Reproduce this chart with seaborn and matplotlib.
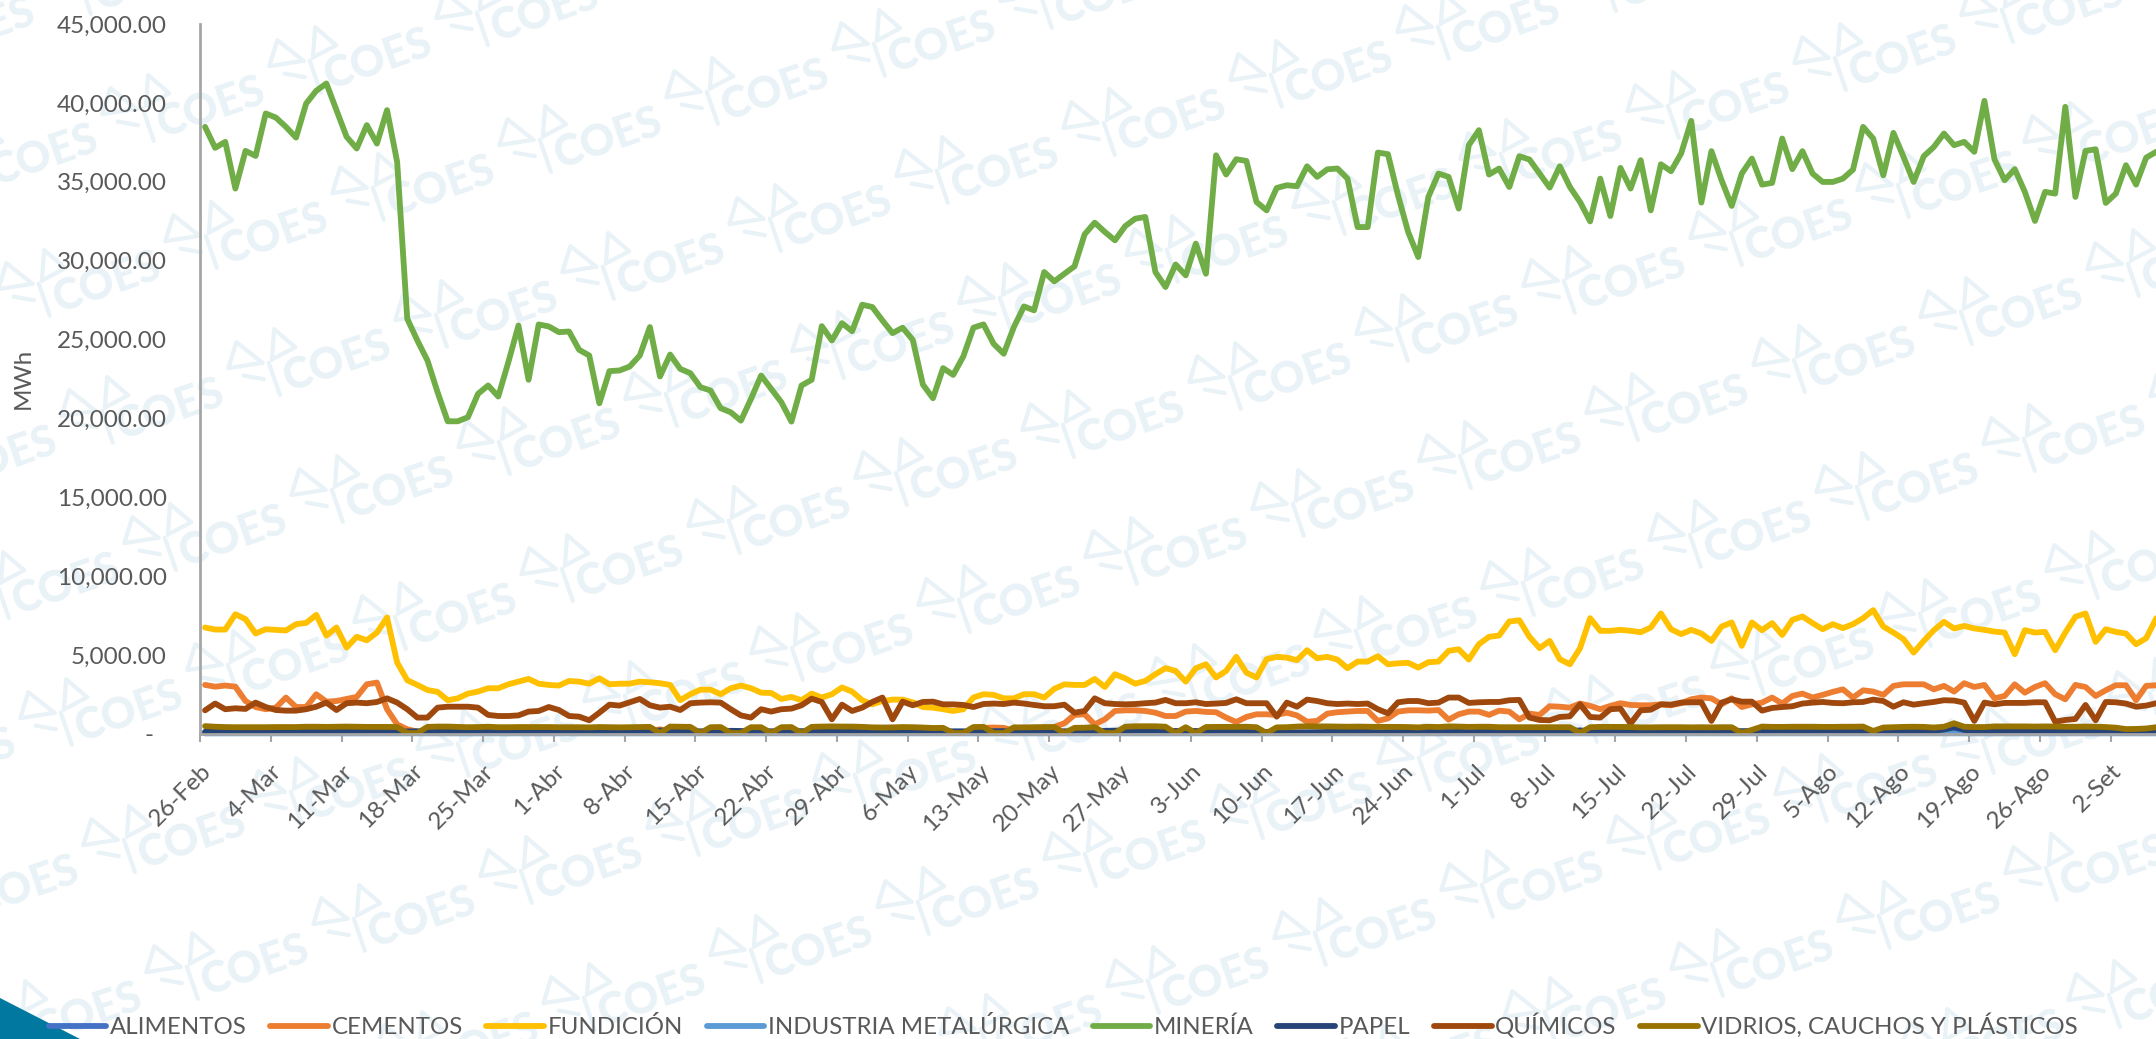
import numpy as np
import pandas as pd
import seaborn as sns
import matplotlib.pyplot as plt
from matplotlib.lines import Line2D
from matplotlib.patches import Polygon
from matplotlib.ticker import FuncFormatter

ANCHO, ALTO = 2156, 1039

SECTORES = ["ALIMENTOS", "CEMENTOS", "FUNDICIÓN", "INDUSTRIA METALÚRGICA",
            "MINERÍA", "PAPEL", "QUÍMICOS", "VIDRIOS, CAUCHOS Y PLÁSTICOS"]
COLORES = ["#4472C4", "#ED7D31", "#FFC000", "#5B9BD5",
           "#70AD47", "#264478", "#9E480E", "#997300"]

SEMANAS = ["26-Feb", "4-Mar", "11-Mar", "18-Mar", "25-Mar", "1-Abr", "8-Abr", "15-Abr",
           "22-Abr", "29-Abr", "6-May", "13-May", "20-May", "27-May", "3-Jun", "10-Jun",
           "17-Jun", "24-Jun", "1-Jul", "8-Jul", "15-Jul", "22-Jul", "29-Jul", "5-Ago",
           "12-Ago", "19-Ago", "26-Ago", "2-Set"]

mineria = [
    38480, 37150, 37530, 34570, 36960, 36640, 39330, 39070, 38480, 37800,
    39960, 40770, 41230, 39540, 37850, 37110, 38590, 37420, 39540, 36260,
    26320, 24940, 23670, 21660, 19820, 19820, 20080, 21560, 22090, 21390,
    23570, 25890, 22450, 25960, 25830, 25470, 25510, 24350, 23990, 20960,
    23000, 23040, 23290, 23990, 25790, 22660, 24050, 23140, 22870, 21980,
    21770, 20650, 20390, 19860, 21240, 22720, 21870, 21030, 19800, 22090,
    22450, 25850, 24940, 26040, 25530, 27210, 27060, 26210, 25410, 25750,
    24980, 22150, 21280, 23190, 22760, 23930, 25750, 25960, 24730, 24100,
    25790, 27100, 26850, 29280, 28690, 29170, 29640, 31670, 32410, 31820,
    31290, 32180, 32660, 32770, 29280, 28330, 29760, 29070, 31080, 29170,
    36680, 35460, 36430, 36320, 33720, 33190, 34610, 34780, 34720, 35980,
    35310, 35790, 35840, 35200, 32130, 32130, 36850, 36750, 34140, 31820,
    30230, 34040, 35520, 35310, 33300, 37320, 38270, 35460, 35840, 34670,
    36620, 36410, 35520, 34630, 35980, 34670, 33720, 32490, 35200, 32830,
    35880, 34570, 36370, 33190, 36110, 35670, 36790, 38860, 33680, 36940,
    35100, 33470, 35520, 36470, 34820, 34930, 37740, 35800, 36940, 35520,
    34990, 34990, 35200, 35770, 38480, 37740, 35410, 38100, 36580, 34990,
    36620, 37210, 38060, 37320, 37530, 36900, 40130, 36410, 35100, 35800,
    34360, 32520, 34360, 34250, 39750, 34040, 36960, 37060, 33660, 34250,
    36050, 34820, 36530, 36900,
]
fundicion = [
    6750, 6620, 6620, 7590, 7280, 6370, 6640, 6600, 6560, 6960,
    7040, 7550, 6240, 6750, 5480, 6160, 5940, 6430, 7380, 4530,
    3410, 3110, 2790, 2670, 2140, 2260, 2560, 2690, 2900, 2900,
    3150, 3320, 3490, 3190, 3110, 3070, 3360, 3320, 3190, 3530,
    3150, 3190, 3190, 3320, 3280, 3220, 3110, 2140, 2520, 2810,
    2810, 2520, 2900, 3070, 2900, 2620, 2600, 2220, 2350, 2140,
    2560, 2310, 2520, 2950, 2690, 2140, 1880, 2090, 2180, 2180,
    2010, 1710, 1670, 1570, 1460, 1570, 2310, 2520, 2480, 2260,
    2260, 2520, 2520, 2310, 2860, 3150, 3110, 3110, 3490, 2980,
    3790, 3530, 3190, 3360, 3790, 4170, 4000, 3320, 4170, 4420,
    3580, 4000, 4890, 3890, 3580, 4740, 4890, 4840, 4680, 5310,
    4800, 4890, 4720, 4170, 4590, 4590, 4930, 4420, 4480, 4510,
    4210, 4550, 4590, 5270, 5370, 4720, 5690, 6160, 6240, 7130,
    7210, 6160, 5440, 5900, 4740, 4420, 5440, 7340, 6540, 6540,
    6600, 6540, 6450, 6750, 7640, 6640, 6330, 6600, 6370, 5900,
    6810, 7070, 5590, 7070, 6580, 7030, 6280, 7230, 7450, 7030,
    6640, 6960, 6710, 6960, 7340, 7850, 6810, 6430, 6010, 5160,
    5900, 6580, 7110, 6690, 6850, 6690, 6600, 6490, 6430, 5060,
    6580, 6430, 6470, 5310, 6430, 7430, 7640, 5840, 6640, 6470,
    6370, 5690, 6070, 7340,
]
cementos = [
    3110, 3000, 3070, 3000, 2090, 1710, 1570, 1670, 2310, 1710,
    1710, 2520, 2050, 2090, 2220, 2350, 3150, 3260, 1570, 610,
    300, 150, 120, 110, 100, 110, 120, 110, 100, 120,
    110, 100, 130, 120, 110, 100, 120, 110, 130, 120,
    110, 100, 120, 130, 150, 300, 130, 120, 110, 100,
    120, 110, 100, 120, 130, 110, 100, 120, 110, 100,
    130, 120, 110, 120, 110, 100, 130, 120, 110, 100,
    120, 130, 110, 100, 120, 110, 130, 390, 410, 390,
    200, 130, 120, 110, 450, 680, 1210, 1250, 610, 930,
    1460, 1500, 1500, 1460, 1350, 1140, 1140, 1420, 1460, 1400,
    1380, 1040, 760, 1080, 1250, 1250, 1210, 1350, 1180, 780,
    830, 1290, 1380, 1420, 1460, 1460, 830, 990, 1420, 1500,
    1500, 1480, 1520, 910, 1250, 1420, 1420, 1210, 1480, 1420,
    930, 1290, 1210, 1760, 1730, 1670, 1930, 1780, 1570, 1780,
    1950, 1840, 1820, 1820, 1880, 1820, 1950, 2200, 2310, 2260,
    1880, 2260, 1710, 1880, 1990, 2310, 1930, 2410, 2560, 2310,
    2480, 2670, 2830, 2310, 2770, 2690, 2480, 3050, 3150, 3150,
    3150, 2830, 3050, 2690, 3220, 2980, 3110, 2260, 2410, 3150,
    2620, 2980, 3220, 2520, 2200, 3110, 2980, 2410, 2770, 3090,
    3090, 2140, 3050, 3090,
]
quimicos = [
    1500, 1930, 1570, 1630, 1590, 1990, 1710, 1520, 1480, 1480,
    1570, 1730, 1990, 1520, 1950, 1990, 1950, 2030, 2260, 1990,
    1570, 1040, 1040, 1670, 1730, 1730, 1730, 1670, 1210, 1140,
    1140, 1180, 1420, 1460, 1710, 1520, 1140, 1100, 870, 1350,
    1860, 1800, 2010, 2220, 1820, 1670, 1730, 1520, 1950, 1990,
    2010, 1990, 1570, 1180, 1040, 1570, 1420, 1570, 1610, 1820,
    2240, 2030, 930, 1860, 1460, 1670, 2030, 2310, 930, 2050,
    1820, 2030, 2050, 1880, 1880, 1840, 1710, 1900, 1930, 1900,
    1990, 1930, 1840, 1760, 1760, 1860, 1350, 1460, 2260, 1950,
    1900, 1880, 1900, 1950, 1990, 2160, 1950, 1950, 2010, 1900,
    1930, 1970, 2200, 1950, 1950, 1950, 1100, 1990, 1730, 2180,
    2090, 1950, 1900, 1930, 1900, 1930, 1570, 1310, 2010, 2090,
    2090, 1950, 1990, 2310, 2310, 1970, 2010, 2030, 2030, 2140,
    2160, 1040, 890, 870, 1080, 1120, 1880, 1080, 1040, 1570,
    1610, 660, 1500, 1540, 1880, 1860, 1990, 2010, 2010, 830,
    1990, 2200, 2050, 2050, 1480, 1650, 1710, 1760, 1930, 1990,
    2030, 1970, 1950, 2010, 2030, 2180, 2090, 1730, 2010, 1860,
    1950, 2030, 2140, 2120, 1990, 830, 1990, 1880, 1970, 1970,
    1970, 2010, 2010, 780, 890, 950, 1840, 870, 2030, 2010,
    1930, 1730, 1800, 1950,
]
vidrios = [
    500, 460, 440, 430, 430, 430, 430, 440, 440, 440,
    460, 460, 450, 460, 470, 460, 450, 450, 450, 440,
    60, 60, 450, 470, 470, 450, 430, 440, 460, 430,
    430, 440, 440, 440, 440, 430, 430, 430, 420, 440,
    430, 420, 430, 440, 450, 60, 470, 460, 450, 60,
    430, 440, 60, 60, 430, 430, 60, 430, 440, 60,
    450, 470, 480, 470, 470, 450, 420, 410, 420, 440,
    430, 410, 380, 390, 60, 60, 440, 450, 60, 60,
    420, 420, 430, 440, 440, 60, 390, 400, 430, 60,
    60, 460, 490, 490, 490, 460, 60, 430, 60, 440,
    450, 450, 450, 460, 430, 60, 420, 430, 470, 490,
    480, 480, 470, 460, 470, 460, 450, 450, 450, 440,
    420, 460, 440, 480, 470, 450, 460, 460, 430, 430,
    430, 430, 430, 430, 430, 430, 70, 430, 450, 450,
    450, 440, 420, 420, 430, 430, 430, 420, 430, 420,
    430, 430, 60, 260, 470, 450, 450, 460, 460, 460,
    450, 450, 460, 460, 470, 190, 410, 430, 450, 460,
    450, 410, 460, 680, 460, 440, 440, 480, 480, 480,
    480, 470, 480, 470, 460, 460, 470, 460, 440, 400,
    310, 320, 350, 430,
]
papel = [
    140, 130, 130, 120, 120, 120, 120, 120, 130, 140,
    160, 150, 150, 150, 160, 150, 140, 140, 140, 150,
    160, 170, 170, 170, 150, 160, 150, 150, 140, 150,
    150, 150, 140, 150, 150, 150, 150, 140, 150, 150,
    140, 140, 130, 140, 180, 220, 200, 190, 170, 170,
    170, 180, 200, 190, 190, 190, 170, 200, 180, 180,
    190, 190, 190, 180, 130, 120, 130, 130, 140, 160,
    160, 150, 160, 170, 170, 170, 150, 160, 180, 180,
    180, 180, 170, 160, 160, 170, 170, 160, 160, 200,
    210, 220, 240, 240, 240, 200, 190, 200, 190, 170,
    170, 170, 170, 170, 150, 130, 90, 90, 100, 100,
    110, 130, 140, 140, 130, 140, 100, 120, 130, 130,
    120, 130, 130, 120, 130, 120, 130, 130, 130, 140,
    140, 140, 140, 150, 130, 170, 230, 160, 140, 140,
    140, 140, 130, 130, 140, 150, 140, 140, 130, 130,
    140, 210, 180, 190, 180, 170, 170, 170, 170, 180,
    170, 170, 170, 170, 170, 190, 170, 180, 190, 180,
    170, 190, 290, 420, 260, 200, 190, 190, 190, 210,
    200, 200, 200, 190, 190, 190, 190, 170, 150, 130,
    120, 130, 150, 170,
]
metalurgica = [
    40, 42, 41, 40, 43, 42, 41, 40, 42, 44,
    43, 42, 41, 43, 42, 40, 41, 43, 42, 41,
    40, 42, 44, 43, 41, 42, 40, 41, 43, 42,
    44, 43, 41, 40, 42, 43, 41, 42, 44, 43,
    40, 41, 42, 43, 41, 40, 42, 44, 43, 41,
    42, 40, 41, 43, 42, 44, 43, 41, 40, 42,
    43, 41, 42, 44, 43, 40, 41, 42, 43, 41,
    40, 42, 44, 43, 41, 42, 40, 41, 43, 42,
    44, 43, 41, 40, 42, 43, 41, 42, 44, 43,
    40, 41, 42, 43, 41, 40, 42, 44, 43, 41,
    42, 40, 41, 43, 42, 44, 43, 41, 40, 42,
    43, 41, 42, 44, 43, 40, 41, 42, 43, 41,
    40, 42, 44, 43, 41, 42, 40, 41, 43, 42,
    44, 43, 41, 40, 42, 43, 41, 42, 44, 43,
    40, 41, 42, 43, 41, 40, 42, 44, 43, 41,
    42, 40, 41, 43, 42, 44, 43, 41, 40, 42,
    43, 41, 42, 44, 43, 40, 41, 42, 43, 41,
    40, 42, 44, 43, 41, 42, 40, 41, 43, 42,
    44, 43, 41, 40, 42, 43, 41, 42, 44, 43,
    40, 41, 42, 43,
]
alimentos = [
    90, 88, 86, 90, 92, 88, 87, 89, 91, 90,
    88, 86, 90, 92, 88, 87, 89, 91, 90, 88,
    86, 90, 92, 88, 87, 89, 91, 90, 88, 86,
    90, 92, 88, 87, 89, 91, 90, 88, 86, 90,
    92, 88, 87, 89, 91, 90, 88, 86, 90, 92,
    88, 87, 89, 91, 90, 88, 86, 90, 92, 88,
    87, 89, 91, 90, 88, 86, 90, 92, 88, 87,
    89, 91, 90, 88, 86, 90, 92, 88, 87, 89,
    91, 90, 88, 86, 90, 92, 88, 87, 89, 91,
    90, 88, 86, 90, 92, 88, 87, 89, 91, 90,
    88, 86, 90, 92, 88, 87, 89, 91, 90, 88,
    86, 90, 92, 88, 87, 89, 91, 90, 88, 86,
    90, 92, 88, 87, 89, 91, 90, 88, 86, 90,
    92, 88, 87, 89, 91, 90, 88, 86, 90, 92,
    88, 87, 89, 91, 90, 88, 86, 90, 92, 88,
    87, 89, 91, 90, 88, 86, 90, 92, 88, 87,
    89, 91, 90, 88, 86, 90, 92, 88, 87, 89,
    91, 90, 88, 86, 90, 92, 88, 87, 89, 91,
    90, 88, 86, 90, 92, 88, 87, 89, 91, 90,
    88, 86, 90, 92,
]

GRIS = "#595959"
MARCA = "#E9F2F7"


def px(x, y):
    """Pixeles de la imagen (origen arriba a la izquierda) a coordenadas de figura"""
    return x / ANCHO, 1 - y / ALTO


def dibujar_marca(fig, cx, cy):
    """Marca de agua COES: texto y trazos del logo, inclinados"""
    ang = np.radians(19)
    fig.text(*px(cx, cy), "COES", family="Lato", weight="black", fontsize=31, color=MARCA,
             rotation=19, ha="center", va="center", rotation_mode="anchor", zorder=-5)
    ox, oy = cx - 72, cy + 2
    trazos = [[(4, -34), (4, 0)], [(-2, 2), (-36, 8), (-20, 30), (-2, 2)],
              [(8, 2), (34, 6), (20, 30), (8, 2)], [(-24, -4), (-6, -14)]]
    for trazo in trazos:
        xs, ys = [], []
        for lx, ly in trazo:
            xs.append(ox + lx * np.cos(ang) - ly * np.sin(ang))
            ys.append(oy - lx * np.sin(ang) - ly * np.cos(ang))
        fx, fy = px(np.array(xs), np.array(ys))
        fig.add_artist(Line2D(fx, fy, color=MARCA, lw=3.0, transform=fig.transFigure, zorder=-5))


dias = np.arange(len(mineria))
df = pd.DataFrame({
    "dia": dias,
    "ALIMENTOS": alimentos,
    "CEMENTOS": cementos,
    "FUNDICIÓN": fundicion,
    "INDUSTRIA METALÚRGICA": metalurgica,
    "MINERÍA": mineria,
    "PAPEL": papel,
    "QUÍMICOS": quimicos,
    "VIDRIOS, CAUCHOS Y PLÁSTICOS": vidrios,
})
largo = df.melt(id_vars="dia", var_name="sector", value_name="mwh")

sns.set_theme(style="white")
plt.rcParams["font.family"] = ["Lato", "DejaVu Sans"]

fig = plt.figure(figsize=(ANCHO / 100, ALTO / 100), dpi=100)
ax = fig.add_axes([200 / ANCHO, 1 - 734 / ALTO, 1 - 200 / ANCHO, (734 - 24) / ALTO])
ax.patch.set_alpha(0)

# marca de agua repetida detras del grafico
for a in range(-8, 16):
    for b in range(-6, 10):
        cx = 797 + a * 167 + b * 63
        cy = 520 - a * 48 + b * 127
        if -60 < cx < ANCHO + 120 and -40 < cy < ALTO + 40:
            dibujar_marca(fig, cx, cy)

sns.lineplot(data=largo, x="dia", y="mwh", hue="sector", hue_order=SECTORES, palette=COLORES,
             linewidth=4.2, errorbar=None, ax=ax, legend=True)
for linea in ax.get_lines():
    linea.set_clip_on(False)
    linea.set_solid_joinstyle("round")
    linea.set_solid_capstyle("round")

ax.set_xlim(-0.5, (ANCHO - 200) / 10.11 - 0.5)
ax.set_ylim(0, 45000)
ax.set_xticks(np.arange(len(SEMANAS)) * 7 - 0.5)
ax.set_xticklabels(SEMANAS, rotation=45, ha="right", rotation_mode="anchor")
ax.set_yticks(np.arange(0, 45001, 5000))
ax.yaxis.set_major_formatter(FuncFormatter(lambda v, _: "-  " if v == 0 else f"{v:,.2f}"))
ax.tick_params(axis="x", length=6, width=1.5, color="#A6A6A6", labelsize=17.5,
               labelcolor=GRIS, pad=13, bottom=True)
ax.tick_params(axis="y", length=0, labelsize=17.5, labelcolor=GRIS, pad=24)
ax.set_xlabel("")
ax.set_ylabel("MWh", fontsize=17.5, color=GRIS)
ax.yaxis.set_label_coords(-166 / (ANCHO - 200), (734 - 378) / 710)

sns.despine(ax=ax, top=True, right=True)
for lado in ["left", "bottom"]:
    ax.spines[lado].set_color("#A6A6A6")
    ax.spines[lado].set_linewidth(2)

# triangulo de la esquina
fig.add_artist(Polygon([px(0, 998), px(80, ALTO), px(0, ALTO)], closed=True, facecolor="#00789F",
                       edgecolor="none", transform=fig.transFigure, zorder=-4))

handles, labels = ax.get_legend_handles_labels()
ax.legend(handles, labels, ncol=8, loc="lower left", bbox_to_anchor=(44 / ANCHO, -4 / ALTO),
          bbox_transform=fig.transFigure, frameon=False, fontsize=17.3, labelcolor=GRIS,
          handlelength=2.4, handletextpad=0.15, columnspacing=0.98, borderpad=0.2, borderaxespad=0.0)

plt.savefig("out.png", dpi=100)
